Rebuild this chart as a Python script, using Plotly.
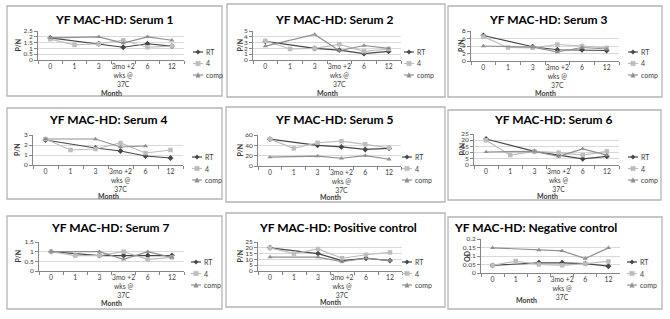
import plotly.graph_objects as go

W, H = 670, 319

categories = ["0", "1", "3", "3mo +2<br>wks @<br>37C", "6", "12"]
series_names = ["RT", "4", "comp"]

serum1_rt = [1.9, None, 1.4, 1.1, 1.4, 1.2]
serum1_4 = [1.8, 1.3, 1.4, 1.7, 1.1, 1.2]
serum1_comp = [1.9, None, 2.0, 1.45, 2.0, 1.7]

serum2_rt = [3.2, None, 2.0, 1.7, 1.1, 1.5]
serum2_4 = [3.3, 1.9, 2.0, 2.7, 1.5, 1.9]
serum2_comp = [2.4, None, 4.4, 1.6, 2.5, 2.0]

serum3_rt = [6.8, None, 3.8, 3.0, 3.0, 2.8]
serum3_4 = [6.5, 3.6, 3.5, 4.4, 4.0, 3.5]
serum3_comp = [4.0, None, 3.7, 2.4, 3.6, 3.2]

serum4_rt = [2.5, None, 1.7, 1.4, 0.9, 0.7]
serum4_4 = [2.6, 1.5, 1.6, 2.2, 1.2, 1.5]
serum4_comp = [2.6, None, 2.6, 1.8, 1.9, None]

serum5_rt = [52, None, 40, 37, 32, 34]
serum5_4 = [52, 34, 45, 48, 42, 35]
serum5_comp = [17, None, 19, 15, 20, 13]

serum6_rt = [21, None, 11, 8, 5, 7]
serum6_4 = [20, 8, 11, 10, 8, 11]
serum6_comp = [10.5, None, 11, 7, 13, 8]

serum7_rt = [1.0, None, 0.8, 0.8, 0.8, 0.8]
serum7_4 = [1.0, 0.8, 0.8, 1.0, 0.6, 0.7]
serum7_comp = [1.0, None, 1.0, 0.6, 1.0, 0.7]

pos_rt = [20, None, 15, 9, 11, 9]
pos_4 = [20, 15, 19, 11, 14, 16]
pos_comp = [12, None, 12, 8, 11, 9]

neg_rt = [0.045, None, 0.06, 0.06, 0.055, 0.04]
neg_4 = [0.045, 0.07, 0.05, 0.045, 0.055, 0.068]
neg_comp = [0.148, None, 0.135, 0.13, 0.085, 0.148]

titles = ["YF MAC-HD: Serum 1", "YF MAC-HD: Serum 2", "YF MAC-HD: Serum 3",
          "YF MAC-HD: Serum 4", "YF MAC-HD: Serum 5", "YF MAC-HD: Serum 6",
          "YF MAC-HD: Serum 7", "YF MAC-HD: Positive control", "YF MAC-HD: Negative control"]
y_titles = ["P/N"] * 8 + ["OD"]
y_max = [2.5, 5, 8, 3, 60, 25, 1.5, 25, 0.2]
y_dtick = [0.5, 1, 2, 1, 20, 5, 0.5, 5, 0.05]
data = [
    (serum1_rt, serum1_4, serum1_comp),
    (serum2_rt, serum2_4, serum2_comp),
    (serum3_rt, serum3_4, serum3_comp),
    (serum4_rt, serum4_4, serum4_comp),
    (serum5_rt, serum5_4, serum5_comp),
    (serum6_rt, serum6_4, serum6_comp),
    (serum7_rt, serum7_4, serum7_comp),
    (pos_rt, pos_4, pos_comp),
    (neg_rt, neg_4, neg_comp),
]

# layout (pixels)
boxes = [(7, 6, 222, 96), (227, 4, 445, 97), (448, 6, 662, 97),
         (7, 108, 222, 199), (226, 107, 445, 202), (448, 110, 661, 200),
         (7, 216, 222, 309), (226, 213, 445, 307), (448, 217, 662, 309)]
plots = [(38, 31, 184, 60), (253, 31, 401, 60), (471, 31, 619, 61),
         (33, 135, 183, 165), (258, 135, 401, 166), (474, 134, 619, 165),
         (39, 242, 184, 271), (258, 242, 402, 271), (481, 239, 620, 273)]
title_pos = [(114, 20), (334, 20), (548, 20),
             (108, 120), (334, 120), (553, 120),
             (110, 228), (338, 228), (535, 228)]
month_pos = [(111, 93), (327, 93), (545, 93),
             (108, 196), (330, 197), (547, 196),
             (111, 303), (330, 302), (526, 300)]
ytitle_x = [17, 239, 461, 17, 239, 461, 17, 239, 467]
legend_x = [193, 404, 628, 192, 402, 628, 191, 402, 627]
row_base = [0, 0, 0, 105, 105, 105, 210, 210, 210]

colors = ["#474747", "#bdbdbd", "#8f8f8f"]
symbols = ["diamond", "square", "triangle-up"]
FONT = "Lato"
TXT = "#3a3a3a"
AXC = "#868686"


def X(p):
    return p / W


def Y(p):
    return 1 - p / H


fig = go.Figure()
shapes = []
annotations = []


def note(text, px, py, size, color=TXT, xanchor="center", angle=0):
    annotations.append(dict(text=text, x=X(px), y=Y(py), xref="paper", yref="paper",
                            xanchor=xanchor, yanchor="middle", showarrow=False,
                            textangle=angle,
                            font=dict(family=FONT, size=size, color=color)))


for i in range(9):
    k = "" if i == 0 else str(i + 1)
    x0, y0, x1, y1 = plots[i]
    for s, name in enumerate(series_names):
        fig.add_trace(go.Scatter(
            x=categories, y=data[i][s], name=name, mode="lines+markers",
            connectgaps=True, xaxis="x" + k, yaxis="y" + k, showlegend=False,
            line=dict(color=colors[s], width=1.2),
            marker=dict(symbol=symbols[s], size=4.5, color=colors[s]),
        ))
    fig.layout["xaxis" + k] = dict(
        domain=[X(x0), X(x1)], anchor="y" + k, type="category",
        categoryorder="array", categoryarray=categories, range=[-0.5, 5.5],
        showline=True, linecolor=AXC, linewidth=1, ticks="outside",
        tickson="boundaries", ticklen=3, tickcolor=AXC, showgrid=False,
        tickangle=0, automargin=False,
        tickfont=dict(family=FONT, size=6.8, color=TXT), fixedrange=True,
    )
    fig.layout["yaxis" + k] = dict(
        domain=[Y(y1), Y(y0)], anchor="x" + k, range=[0, y_max[i]],
        dtick=y_dtick[i], showline=True, linecolor=AXC, linewidth=1,
        ticks="outside", ticklen=3, tickcolor=AXC, gridcolor="#d9d9d9",
        zeroline=False, tickfont=dict(family=FONT, size=6.5, color=TXT),
        automargin=False, fixedrange=True,
    )
    bx0, by0, bx1, by1 = boxes[i]
    shapes.append(dict(type="rect", xref="paper", yref="paper",
                       x0=X(bx0), x1=X(bx1), y0=Y(by1), y1=Y(by0),
                       line=dict(color="#b4b4b4", width=1.3)))
    tx, ty = title_pos[i]
    note("<b>" + titles[i] + "</b>", tx, ty, 12, "#000000")
    mx, my = month_pos[i]
    note("<b>Month</b>", mx, my, 7)
    note("<b>" + y_titles[i] + "</b>", ytitle_x[i], (y0 + y1) / 2, 7, angle=-90)
    # legend keys
    lx = legend_x[i]
    for s, name in enumerate(series_names):
        ly = row_base[i] + [52, 63.5, 75][s]
        shapes.append(dict(type="line", xref="paper", yref="paper",
                           x0=X(lx), x1=X(lx + 10), y0=Y(ly), y1=Y(ly),
                           line=dict(color=colors[s], width=1.2)))
        cx = lx + 5
        r = 2.2
        if s == 0:
            path = f"M{X(cx)},{Y(ly - r)} L{X(cx + r)},{Y(ly)} L{X(cx)},{Y(ly + r)} L{X(cx - r)},{Y(ly)} Z"
        elif s == 1:
            path = f"M{X(cx - r)},{Y(ly - r)} L{X(cx + r)},{Y(ly - r)} L{X(cx + r)},{Y(ly + r)} L{X(cx - r)},{Y(ly + r)} Z"
        else:
            path = f"M{X(cx)},{Y(ly - r)} L{X(cx + r)},{Y(ly + r)} L{X(cx - r)},{Y(ly + r)} Z"
        shapes.append(dict(type="path", xref="paper", yref="paper", path=path,
                           fillcolor=colors[s], line=dict(color=colors[s], width=0.5)))
        note(name, lx + 11, ly, 7, xanchor="left")

fig.update_layout(
    width=W, height=H, margin=dict(l=0, r=0, t=0, b=0),
    paper_bgcolor="white", plot_bgcolor="white", showlegend=False,
    shapes=shapes, annotations=annotations,
)

fig.write_html("out.html", config={"displayModeBar": False},
               post_script="document.body.style.margin='0px';")
